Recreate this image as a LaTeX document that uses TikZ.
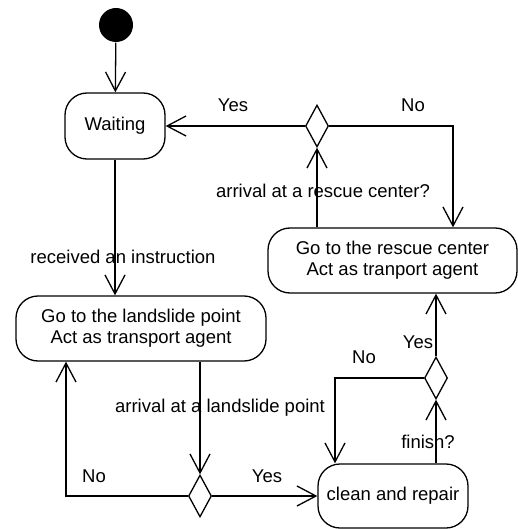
\documentclass[tikz,border=0pt]{standalone}
\usepackage{fontspec}
\setmainfont{Liberation Sans}
\usetikzlibrary{shapes.geometric,arrows.meta}

\begin{document}
\begin{tikzpicture}[x=0.5pt,y=-0.5pt,line width=0.65pt,
   font=\fontsize{9.25pt}{10.5pt}\selectfont,
   act/.style={draw,rounded corners=11pt,align=center,inner sep=0pt},
   dec/.style={draw,diamond,aspect=0.55,minimum width=11.5pt,minimum height=21pt,inner sep=0pt},
   arr/.style={-{Straight Barb[length=9.5pt,width=10pt]}}]
   \useasboundingbox (0,0) rectangle (518,529);
   \node[circle,fill=black,minimum size=17pt,inner sep=0pt] (start) at (116,25) {};
   \node[act,minimum width=50pt,minimum height=33pt] (wait) at (115,126) {Waiting};
   \node[act,minimum width=124.5pt,minimum height=32.5pt] (rescue) at (392.5,260.5)
      {Go to the rescue center\\Act as tranport agent};
   \node[act,minimum width=125pt,minimum height=32.5pt] (land) at (141,328.5)
      {Go to the landslide point\\Act as transport agent};
   \node[act,minimum width=75pt,minimum height=32pt] (clean) at (393,496) {clean and repair};
   \node[dec] (d1) at (317,126) {};
   \node[dec] (d2) at (200,496) {};
   \node[dec] (d3) at (436,378) {};
   \coordinate (c1) at (453,126);
   \coordinate (c2) at (66,496);
   \coordinate (c3) at (335,378);
   % connectors
   \draw[arr] (start) -- (wait);
   \draw[arr] (d1.west) -- (wait.east);
   \draw[arr] (d1.east) -| (rescue.north -| c1);
   \draw[arr] (rescue.north -| d1) -- (d1.south);
   \draw[arr] (wait.south) -- (wait.south |- land.north);
   \draw[arr] (d2.north |- land.south) -- (d2.north);
   \draw[arr] (d2.west) -| (land.south -| c2);
   \draw[arr] (d2.east) -- (clean.west);
   \draw[arr] (d3.south |- clean.north) -- (d3.south);
   \draw[arr] (d3.west) -| (clean.north -| c3);
   \draw[arr] (d3.north) -- (d3.north |- rescue.south);
   % labels
   \node (yes1) at (233,105) {Yes};
   \node (no1) at (413,105) {No};
   \node (q1) at (323,191) {arrival at a rescue center?};
   \node (recv) at (123,257) {received an instruction};
   \node (yes3) at (418,342) {Yes};
   \node (no3) at (364,357) {No};
   \node (q2) at (220,408) {arrival at a landslide point};
   \node (q3) at (428,442) {finish?};
   \node (no2) at (94,476) {No};
   \node (yes2) at (267,476) {Yes};
\end{tikzpicture}
\end{document}
